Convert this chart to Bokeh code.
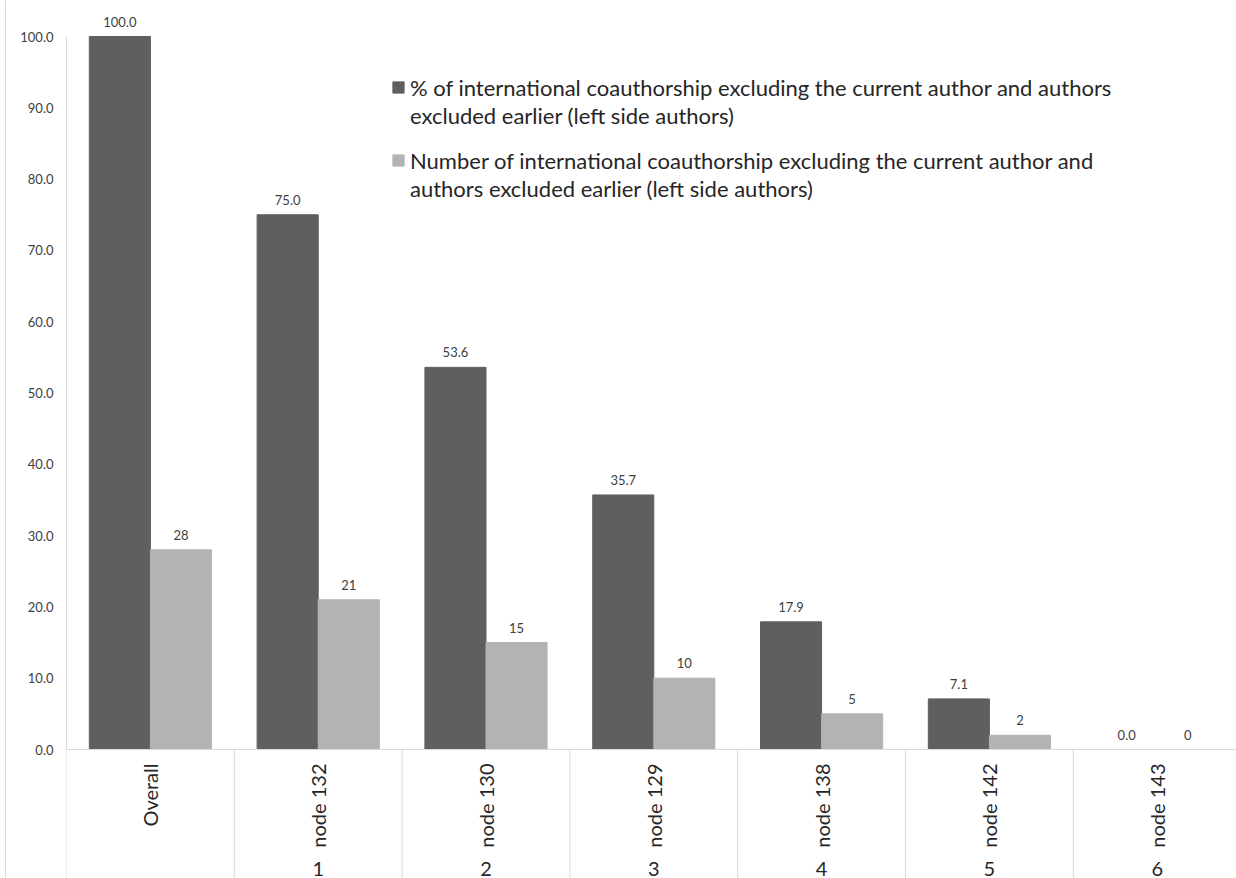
import math
from bokeh.plotting import figure
from bokeh.models import (ColumnDataSource, FixedTicker, NumeralTickFormatter, Span,
                          Legend, LegendItem, Range1d, LinearAxis)
from bokeh.transform import dodge
from bokeh.core.properties import value
from bokeh.embed import file_html
from bokeh.resources import INLINE

# ---- data ----
categories = ["Overall", "node 132", "node 130", "node 129", "node 138", "node 142", "node 143"]
group_labels = ["", "1", "2", "3", "4", "5", "6"]
pct_values = [100.0, 75.0, 53.6, 35.7, 17.9, 7.1, 0.0]
num_values = [28, 21, 15, 10, 5, 2, 0]
y_ticks = [0, 10, 20, 30, 40, 50, 60, 70, 80, 90, 100]
series_line1 = [
    "% of international coauthorship excluding the current author and authors",
    "Number of international coauthorship excluding the current author and",
]
series_line2 = [
    "excluded earlier (left side authors)",
    "authors excluded earlier (left side authors)",
]

FONT = "Lato"
W, H = 1236, 878
LEFT = 66
BASE_Y = 749          # pixel row of the 0 line
TOP_Y = 36            # pixel row of 100
PX_PER_UNIT = (BASE_Y - TOP_Y) / 100.0
CAT_W = 167.8

y0 = -(H - BASE_Y) / PX_PER_UNIT
y1 = 100 + TOP_Y / PX_PER_UNIT
x0 = -0.5
x1 = x0 + (W - LEFT) / CAT_W

idx = list(range(len(categories)))
src = ColumnDataSource(dict(
    x=idx, cat=categories, grp=group_labels,
    pct=pct_values, num=num_values,
    pct_lbl=["%.1f" % v for v in pct_values],
    num_lbl=["%d" % v for v in num_values],
    zero=[0] * len(idx),
))

p = figure(width=W, height=H, output_backend="svg", toolbar_location=None,
           x_range=Range1d(x0, x1), y_range=Range1d(y0, y1),
           x_axis_location=None, min_border_left=LEFT, min_border_right=0,
           min_border_top=0, min_border_bottom=0)
p.outline_line_color = None
p.xgrid.visible = False
p.ygrid.visible = False
p.background_fill_color = "white"
p.border_fill_color = "white"

ax = p.yaxis[0]
ax.ticker = FixedTicker(ticks=y_ticks)
ax.formatter = NumeralTickFormatter(format="0.0")
ax.bounds = (0, 100)
ax.axis_line_color = "#d9d9d9"
ax.major_tick_line_color = None
ax.minor_tick_line_color = None
ax.major_tick_out = 0
ax.major_tick_in = 0
ax.minor_tick_out = 0
ax.minor_tick_in = 0
ax.major_label_standoff = 13
ax.major_label_text_font = FONT
ax.major_label_text_font_size = "13px"
ax.major_label_text_color = "#404040"
ax.axis_label = " "
ax.axis_label_text_font_size = "1px"
ax.axis_label_standoff = 8

# outer chart-area edge line (axis with only its line shown)
outer = LinearAxis(ticker=FixedTicker(ticks=[]), major_tick_line_color=None,
                   minor_tick_line_color=None, major_label_text_font_size="0px",
                   major_tick_out=0, major_tick_in=0, minor_tick_out=0, minor_tick_in=0,
                   axis_line_color="#d9d9d9", major_label_standoff=0)
p.add_layout(outer, "left")

BW = 0.364
r1 = p.vbar(x=dodge("x", -BW / 2, range=p.x_range), top="pct", width=BW, bottom=0,
            source=src, fill_color="#5f5f5f", line_color="#5f5f5f")
r2 = p.vbar(x=dodge("x", BW / 2, range=p.x_range), top="num", width=BW, bottom=0,
            source=src, fill_color="#b3b3b3", line_color="#b3b3b3")

# baseline and separators
p.add_layout(Span(location=0, dimension="width", line_color="#d9d9d9", line_width=1))
seps = [i - 0.5 for i in range(len(categories) + 1)]
p.segment(x0=seps, y0=[0] * len(seps), x1=seps, y1=[y0] * len(seps),
          line_color="#d9d9d9", line_width=1)

# data labels
p.text(x=dodge("x", -BW / 2, range=p.x_range), y="pct", text="pct_lbl", source=src,
       text_align="center", text_baseline="bottom", y_offset=-10,
       text_font=value(FONT), text_font_size="13px", text_color="#404040")
p.text(x=dodge("x", BW / 2, range=p.x_range), y="num", text="num_lbl", source=src,
       text_align="center", text_baseline="bottom", y_offset=-10,
       text_font=value(FONT), text_font_size="13px", text_color="#404040")

# category labels
p.text(x="x", y="zero", text="cat", source=src, angle=math.pi / 2,
       text_align="right", text_baseline="middle", y_offset=14,
       text_font=value(FONT), text_font_size="20px", text_color="#262626")
p.text(x="x", y="zero", text="grp", source=src,
       text_align="center", text_baseline="middle", y_offset=119,
       text_font=value(FONT), text_font_size="20px", text_color="#262626")

# legend: one block per series, first line carries the swatch
legend_kw = dict(padding=0, margin=0, spacing=0, glyph_width=14, glyph_height=14,
                 label_standoff=5, label_height=28,
                 label_text_font=FONT, label_text_font_size="22px",
                 label_text_color="#262626", border_line_color=None,
                 background_fill_alpha=0)
for i, (r, top_row) in enumerate([(r1, 73), (r2, 146)]):
    lg = Legend(items=[LegendItem(label=series_line1[i], renderers=[r]),
                       LegendItem(label=series_line2[i], renderers=[])],
                location=(325, H - (top_row + 56)), **legend_kw)
    p.add_layout(lg)

open("out.html", "w").write(file_html(p, INLINE))
